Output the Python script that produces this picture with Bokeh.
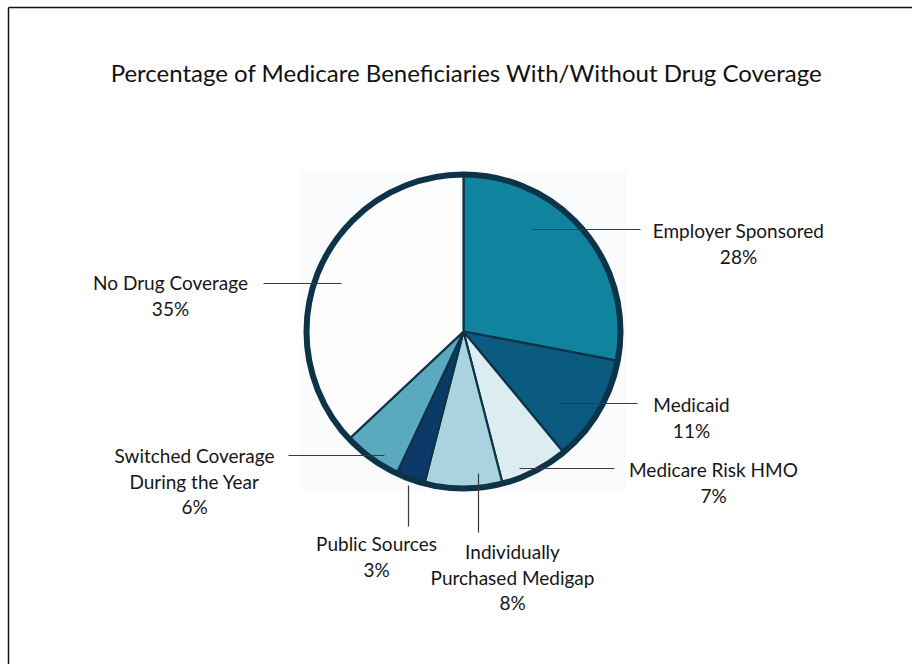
import numpy as np
from bokeh.plotting import figure
from bokeh.models import Range1d, ColumnDataSource
from bokeh.core.properties import value
from bokeh.embed import file_html
from bokeh.resources import INLINE

# ---- data ----
categories = ["Employer Sponsored", "Medicaid", "Medicare Risk HMO",
              "Individually Purchased Medigap", "Public Sources",
              "Switched Coverage During the Year", "No Drug Coverage"]
shares = [28, 11, 7, 8, 3, 6, 35]
colors = ["#10839f", "#0b5b80", "#dcedf2", "#a9d3df", "#0b3a68", "#5aa9bf", "#fdfdfd"]
label_lines = [["Employer Sponsored", "28%"],
               ["Medicaid", "11%"],
               ["Medicare Risk HMO", "7%"],
               ["Individually", "Purchased Medigap", "8%"],
               ["Public Sources", "3%"],
               ["Switched Coverage", "During the Year", "6%"],
               ["No Drug Coverage", "35%"]]
title_text = "Percentage of Medicare Beneficiaries With/Without Drug Coverage"

# ---- layout (pixel positions from top-left) ----
W, H = 912, 664
CX, CY, R = 463, 331, 157
label_pos = [(738, 230), (691, 404), (713, 469), (512, 551), (376, 543), (194, 455), (170, 282)]
leaders = [((532, 229), (640, 229)), ((556, 403), (637, 403)), ((519, 468), (614, 468)),
           ((478, 473), (478, 532)), ((408, 485), (408, 526)), ((288, 455), (384, 455)),
           ((263, 283), (341, 283))]
LINE_H = 25.5

def fy(y):
    return H - y

p = figure(width=W, height=H, x_range=Range1d(0, W), y_range=Range1d(0, H),
           output_backend="svg", toolbar_location=None, min_border=0)
p.axis.visible = False
p.grid.visible = False
p.outline_line_color = None
p.background_fill_color = "white"
p.border_fill_color = "white"

# frame (top and left rules)
p.line([8, 8], [fy(7), fy(H)], line_color="#111111", line_width=1.5)
p.line([8, W], [fy(7), fy(7)], line_color="#111111", line_width=1.5)

# faint backdrop behind the pie
p.quad(left=[300], right=[626], top=[fy(170)], bottom=[fy(490)],
       fill_color="#fafbfc", line_color=None)

# pie wedges, clockwise from 12 o'clock
vals = np.array(shares, dtype=float) / 100.0
ends = np.cumsum(vals)
starts = ends - vals
ends[-1] = 1.0  # last slice closes the circle
src = ColumnDataSource(dict(
    cat=categories,
    start=np.pi / 2 - 2 * np.pi * ends,
    end=np.pi / 2 - 2 * np.pi * starts,
    color=colors))
p.wedge(x=CX, y=fy(CY), radius=R, start_angle="start", end_angle="end",
        fill_color="color", line_color="#0c3347", line_width=2.2, source=src)
p.circle(x=[CX], y=[fy(CY)], radius=R, fill_color=None,
         line_color="#0c3347", line_width=6)

# leader lines
for (a, b) in leaders:
    p.line([a[0], b[0]], [fy(a[1]), fy(b[1])], line_color="#3a3a3a", line_width=1.2)

# labels
tx, ty, tt = [], [], []
for (x, y), lines in zip(label_pos, label_lines):
    for i, s in enumerate(lines):
        tx.append(x)
        ty.append(fy(y + i * LINE_H))
        tt.append(s)
p.text(x=tx, y=ty, text=tt, text_align="center", text_baseline="middle",
       text_font=value("Lato"), text_font_size="19px", text_color="#161616")

# title
p.text(x=[466], y=[fy(72)], text=[title_text], text_align="center",
       text_baseline="middle", text_font=value("Lato"), text_font_size="24px",
       text_color="#111111")

open("out.html", "w").write(file_html(p, INLINE))
